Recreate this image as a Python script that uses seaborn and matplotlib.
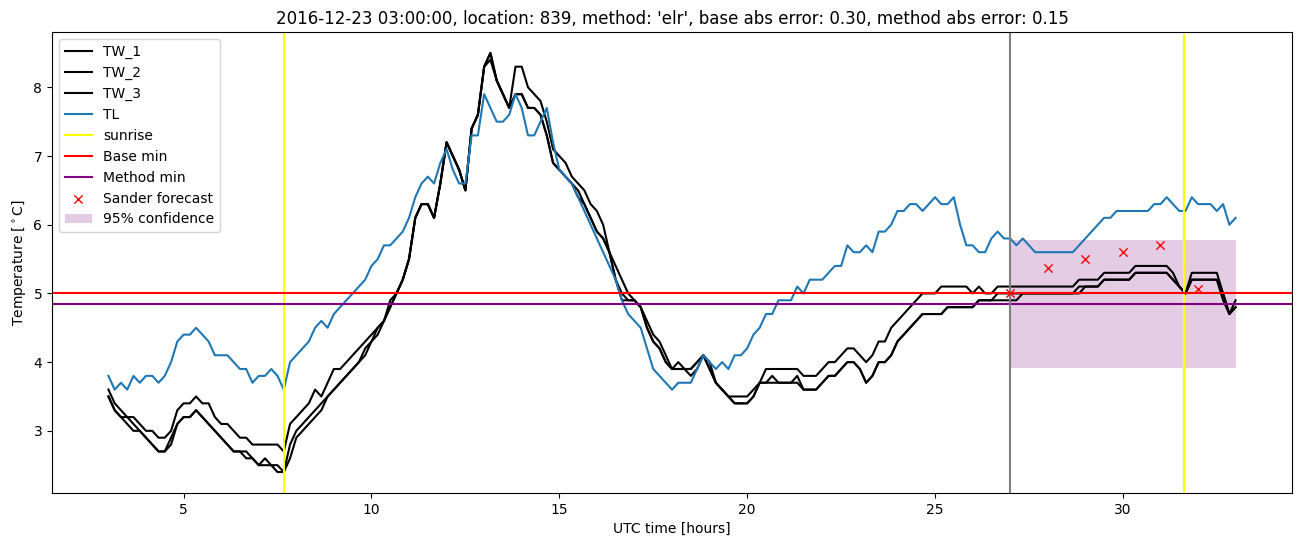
import numpy as np
import matplotlib
matplotlib.use("Agg")
import matplotlib.pyplot as plt
import seaborn as sns

# ---- data (10-minute samples from 03:00 to 33:00 UTC hours) ----
time_hours = np.round(np.arange(18, 199) / 6.0, 4)

TW_1 = [
    3.6, 3.4, 3.3, 3.2, 3.2, 3.1,
    3.0, 3.0, 2.9, 2.9, 3.0, 3.3,
    3.4, 3.4, 3.5, 3.4, 3.4, 3.2,
    3.1, 3.1, 3.0, 2.9, 2.9, 2.8,
    2.8, 2.8, 2.8, 2.8, 2.7, 3.1,
    3.2, 3.3, 3.4, 3.6, 3.5, 3.7,
    3.9, 3.9, 4.0, 4.1, 4.2, 4.3,
    4.4, 4.5, 4.6, 4.9, 5.0, 5.2,
    5.5, 6.1, 6.3, 6.3, 6.1, 6.6,
    7.2, 7.0, 6.8, 6.5, 7.4, 7.6,
    8.3, 8.5, 8.1, 7.9, 7.7, 8.3,
    8.3, 8.0, 7.9, 7.8, 7.5, 7.1,
    7.0, 6.9, 6.7, 6.6, 6.5, 6.3,
    6.2, 6.0, 5.6, 5.4, 5.2, 5.0,
    4.9, 4.8, 4.6, 4.4, 4.3, 4.1,
    3.9, 4.0, 3.9, 3.8, 3.9, 4.1,
    4.0, 3.7, 3.6, 3.5, 3.5, 3.5,
    3.5, 3.6, 3.7, 3.9, 3.9, 3.9,
    3.9, 3.9, 3.9, 3.8, 3.8, 3.8,
    3.9, 4.0, 4.0, 4.1, 4.2, 4.2,
    4.1, 4.0, 4.1, 4.3, 4.3, 4.5,
    4.6, 4.7, 4.8, 4.9, 5.0, 5.0,
    5.0, 5.1, 5.1, 5.1, 5.1, 5.1,
    5.0, 5.1, 5.0, 5.0, 5.1, 5.1,
    5.1, 5.1, 5.1, 5.1, 5.1, 5.1,
    5.1, 5.1, 5.1, 5.1, 5.1, 5.2,
    5.2, 5.2, 5.2, 5.3, 5.3, 5.3,
    5.3, 5.3, 5.4, 5.4, 5.4, 5.4,
    5.4, 5.4, 5.3, 5.1, 5.0, 5.3,
    5.3, 5.3, 5.3, 5.3, 5.0, 4.7,
    4.9,
]

TW_2 = [
    3.5, 3.3, 3.2, 3.1, 3.0, 3.0,
    2.9, 2.8, 2.7, 2.7, 2.9, 3.1,
    3.2, 3.2, 3.3, 3.2, 3.1, 3.0,
    2.9, 2.8, 2.7, 2.7, 2.6, 2.6,
    2.5, 2.6, 2.5, 2.4, 2.4, 2.8,
    3.0, 3.1, 3.2, 3.3, 3.4, 3.5,
    3.6, 3.7, 3.8, 3.9, 4.0, 4.2,
    4.3, 4.5, 4.6, 4.8, 5.0, 5.2,
    5.5, 6.1, 6.3, 6.3, 6.1, 6.6,
    7.2, 7.0, 6.8, 6.5, 7.4, 7.6,
    8.3, 8.5, 8.1, 7.9, 7.7, 7.9,
    7.9, 7.7, 7.7, 7.6, 7.3, 6.9,
    6.8, 6.7, 6.6, 6.4, 6.3, 6.1,
    5.9, 5.8, 5.6, 5.2, 4.9, 4.9,
    4.9, 4.8, 4.5, 4.3, 4.2, 4.0,
    3.9, 3.9, 3.9, 3.9, 4.0, 4.1,
    3.9, 3.7, 3.6, 3.5, 3.4, 3.4,
    3.4, 3.5, 3.7, 3.7, 3.8, 3.7,
    3.7, 3.7, 3.8, 3.6, 3.6, 3.6,
    3.7, 3.8, 3.8, 3.9, 4.0, 4.0,
    3.9, 3.7, 3.8, 4.0, 4.0, 4.1,
    4.3, 4.4, 4.5, 4.6, 4.7, 4.7,
    4.7, 4.7, 4.8, 4.8, 4.8, 4.8,
    4.8, 4.9, 4.9, 4.9, 4.9, 4.9,
    4.9, 4.9, 5.0, 5.0, 5.0, 5.0,
    5.0, 5.0, 5.0, 5.0, 5.0, 5.0,
    5.1, 5.1, 5.1, 5.2, 5.2, 5.2,
    5.2, 5.2, 5.3, 5.3, 5.3, 5.3,
    5.3, 5.3, 5.2, 5.1, 5.0, 5.2,
    5.2, 5.2, 5.2, 5.2, 5.0, 4.7,
    4.8,
]

TW_3 = [
    3.5, 3.3, 3.2, 3.2, 3.1, 3.0,
    2.9, 2.8, 2.7, 2.7, 2.8, 3.1,
    3.2, 3.2, 3.3, 3.2, 3.1, 3.0,
    2.9, 2.8, 2.7, 2.7, 2.7, 2.6,
    2.5, 2.5, 2.5, 2.5, 2.4, 2.6,
    2.9, 3.0, 3.1, 3.2, 3.3, 3.5,
    3.6, 3.7, 3.8, 3.9, 4.0, 4.1,
    4.3, 4.4, 4.6, 4.8, 5.0, 5.2,
    5.5, 6.1, 6.3, 6.3, 6.1, 6.6,
    7.2, 7.0, 6.8, 6.5, 7.4, 7.6,
    8.3, 8.4, 8.1, 7.9, 7.7, 7.9,
    7.9, 7.7, 7.7, 7.6, 7.3, 6.9,
    6.8, 6.7, 6.6, 6.5, 6.3, 6.1,
    5.9, 5.8, 5.6, 5.2, 5.0, 4.9,
    4.9, 4.8, 4.5, 4.3, 4.2, 4.0,
    3.9, 3.9, 3.9, 3.9, 4.0, 4.1,
    3.9, 3.7, 3.6, 3.5, 3.4, 3.4,
    3.4, 3.5, 3.7, 3.7, 3.7, 3.7,
    3.7, 3.7, 3.7, 3.6, 3.6, 3.6,
    3.7, 3.8, 3.8, 3.9, 4.0, 4.0,
    3.9, 3.7, 3.8, 4.0, 4.0, 4.1,
    4.3, 4.4, 4.5, 4.6, 4.7, 4.7,
    4.7, 4.7, 4.8, 4.8, 4.8, 4.8,
    4.8, 4.9, 4.9, 4.9, 5.0, 5.0,
    5.0, 5.0, 5.0, 5.0, 5.0, 5.0,
    5.0, 5.0, 5.0, 5.0, 5.0, 5.1,
    5.1, 5.1, 5.1, 5.2, 5.2, 5.2,
    5.2, 5.2, 5.3, 5.3, 5.3, 5.3,
    5.3, 5.3, 5.2, 5.1, 5.0, 5.2,
    5.2, 5.2, 5.2, 5.2, 4.9, 4.7,
    4.8,
]

TL = [
    3.8, 3.6, 3.7, 3.6, 3.8, 3.7,
    3.8, 3.8, 3.7, 3.8, 4.0, 4.3,
    4.4, 4.4, 4.5, 4.4, 4.3, 4.1,
    4.1, 4.1, 4.0, 3.9, 3.9, 3.7,
    3.8, 3.8, 3.9, 3.8, 3.6, 4.0,
    4.1, 4.2, 4.3, 4.5, 4.6, 4.5,
    4.7, 4.8, 4.9, 5.0, 5.1, 5.2,
    5.4, 5.5, 5.7, 5.7, 5.8, 5.9,
    6.1, 6.4, 6.6, 6.7, 6.6, 6.9,
    7.1, 6.8, 6.6, 6.6, 7.3, 7.3,
    7.9, 7.7, 7.5, 7.5, 7.6, 7.9,
    7.7, 7.3, 7.3, 7.5, 7.7, 7.2,
    6.8, 6.7, 6.6, 6.4, 6.2, 6.0,
    5.8, 5.6, 5.4, 5.2, 4.9, 4.7,
    4.6, 4.5, 4.2, 3.9, 3.8, 3.7,
    3.6, 3.7, 3.7, 3.7, 3.9, 4.1,
    4.0, 3.9, 4.0, 3.9, 4.1, 4.1,
    4.2, 4.4, 4.5, 4.7, 4.7, 4.9,
    4.9, 4.9, 5.1, 5.0, 5.2, 5.2,
    5.2, 5.3, 5.4, 5.4, 5.7, 5.6,
    5.6, 5.7, 5.6, 5.9, 5.9, 6.0,
    6.2, 6.2, 6.3, 6.3, 6.2, 6.3,
    6.4, 6.3, 6.3, 6.4, 6.0, 5.7,
    5.7, 5.6, 5.6, 5.8, 5.9, 5.8,
    5.8, 5.7, 5.8, 5.7, 5.6, 5.6,
    5.6, 5.6, 5.6, 5.6, 5.6, 5.7,
    5.8, 5.9, 6.0, 6.1, 6.1, 6.2,
    6.2, 6.2, 6.2, 6.2, 6.2, 6.3,
    6.3, 6.4, 6.3, 6.2, 6.2, 6.4,
    6.3, 6.3, 6.3, 6.2, 6.3, 6.0,
    6.1,
]

sunrise_hours = [7.66, 31.62]
forecast_time = 27.0
base_min = 5.0
method_min = 4.85
sander_hours = [27, 28, 29, 30, 31, 32]
sander_values = [5.0, 5.37, 5.5, 5.6, 5.71, 5.07]
conf_hours = [27.0, 33.0]
conf_low = 3.92
conf_high = 5.78

title = ("2016-12-23 03:00:00, location: 839, method: 'elr', "
         "base abs error: 0.30, method abs error: 0.15")

# ---- plot ----
plt.rcParams['font.family'] = ['DejaVu Sans']
fig, ax = plt.subplots(figsize=(13.02, 5.47), dpi=100)
fig.subplots_adjust(left=0.040, right=0.9923, bottom=0.0987, top=0.9415)

for name, vals, col in [("TW_1", TW_1, "black"), ("TW_2", TW_2, "black"),
                        ("TW_3", TW_3, "black"), ("TL", TL, "#1f77b4")]:
    sns.lineplot(x=time_hours, y=vals, color=col, lw=1.5, ax=ax,
                 estimator=None, sort=False, label=name)

sr = [ax.axvline(s, color="yellow", lw=1.5) for s in sunrise_hours]
bm = ax.axhline(base_min, color="red", lw=1.5)
mm = ax.axhline(method_min, color="purple", lw=1.5)
ax.axvline(forecast_time, color="grey", lw=1.5)
band = ax.fill_between(conf_hours, conf_low, conf_high, color="purple",
                       alpha=0.2, lw=0)
sns.scatterplot(x=sander_hours, y=sander_values, marker="x",
                color="red", s=36, linewidth=1.0, ax=ax, zorder=5)

lines = ax.get_lines()[:4]
handles = lines + [sr[0], bm, mm, ax.collections[-1], band]
labels = ["TW_1", "TW_2", "TW_3", "TL", "sunrise", "Base min",
          "Method min", "Sander forecast", "95% confidence"]
ax.legend(handles, labels, loc="upper left")

ax.set_xlim(1.5, 34.5)
ax.set_ylim(2.095, 8.805)
ax.set_xlabel("UTC time [hours]")
ax.set_ylabel(r"Temperature [$^\circ$C]")
ax.set_title(title)

fig.savefig("out.png", dpi=100)
